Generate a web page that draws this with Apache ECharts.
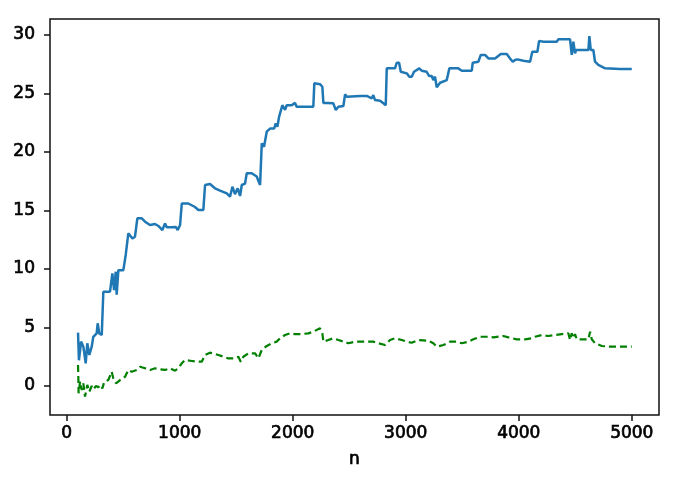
<!DOCTYPE html>
<html>
<head>
<meta charset="utf-8">
<script src="https://cdn.jsdelivr.net/npm/echarts@6/dist/echarts.min.js"></script>
<style>html,body{margin:0;padding:0;background:#fff}#c{width:677px;height:484px}</style>
</head>
<body>
<div id="c"></div>
<script>
var xTicks = [0, 1000, 2000, 3000, 4000, 5000];
var yTicks = [0, 5, 10, 15, 20, 25, 30];
var xName = 'n';

var blueN = [100,108,127,147,168,182,200,221,235,265,274,288,310,324,383,404,419,434,442,457,501,522,545,560,581,604,625,664,693,737,782,811,846,870,885,929,965,982,1003,1018,1076,1135,1165,1209,1224,1268,1312,1357,1416,1445,1466,1489,1513,1534,1549,1578,1593,1637,1681,1711,1726,1746,1770,1799,1835,1850,1864,1879,1908,1932,1947,1991,2020,2035,2182,2191,2241,2262,2271,2301,2359,2381,2404,2448,2463,2478,2596,2611,2655,2699,2713,2728,2773,2802,2823,2832,2905,2920,2941,2956,3009,3032,3053,3073,3120,3141,3185,3206,3230,3244,3259,3274,3304,3363,3386,3465,3496,3584,3593,3643,3664,3702,3731,3790,3841,3894,3923,3947,3967,3988,4041,4100,4120,4165,4180,4218,4336,4351,4454,4469,4483,4498,4507,4616,4625,4637,4660,4675,4704,4764,4896,5000];
var blueV = [4.56,2.2,3.8,3.36,1.94,3.65,2.65,3.36,4.2,4.5,5.36,4.5,4.36,8.06,8.06,9.63,8.2,9.77,7.8,9.9,9.9,11.2,13.05,13.2,12.6,12.76,14.33,14.33,14.04,13.76,13.85,13.68,13.33,13.9,13.56,13.56,13.6,13.33,13.76,15.6,15.6,15.3,15.04,15.04,17.18,17.26,16.9,16.7,16.47,16.18,17.03,16.4,16.9,16.24,17.18,17.3,18.18,18.18,17.9,17.18,20.74,20.45,21.74,22.0,22.0,22.45,22.16,23.0,24.0,23.6,24.0,24.0,24.2,23.87,23.87,25.87,25.8,25.58,24.2,24.2,24.16,23.59,23.87,23.93,24.93,24.73,24.79,24.93,24.79,24.59,24.87,24.44,24.38,24.16,24.0,27.15,27.15,27.63,27.63,26.86,26.72,26.44,26.44,26.86,27.15,26.95,26.86,26.5,26.5,26.15,26.44,25.53,25.92,26.15,27.15,27.15,26.95,26.95,27.63,27.72,28.3,28.3,28.0,28.0,28.38,28.38,28.0,27.72,27.86,27.92,27.8,27.72,28.57,28.57,29.5,29.43,29.43,29.63,29.63,28.3,29.43,28.43,28.72,28.72,29.91,28.72,28.72,27.72,27.44,27.15,27.1,27.1];

var greenN = [100,103,105,118,133,147,162,182,200,221,235,259,280,295,315,333,368,398,412,436,472,516,545,575,619,649,693,737,782,826,870,914,958,988,1018,1047,1091,1150,1195,1224,1268,1342,1430,1475,1519,1540,1563,1607,1667,1696,1726,1770,1814,1858,1888,1932,1976,2020,2080,2138,2182,2241,2262,2271,2315,2359,2404,2448,2492,2551,2611,2669,2713,2758,2817,2861,2905,2965,3009,3053,3112,3156,3200,3244,3274,3333,3392,3451,3496,3554,3598,3658,3717,3775,3864,3908,3982,4056,4115,4144,4204,4262,4321,4381,4439,4454,4469,4483,4498,4513,4572,4616,4631,4646,4675,4735,4808,4896,5000];
var greenV = [1.8,0.66,-0.62,0.37,-0.34,0.23,-0.91,0.09,-0.49,0.0,-0.28,0.0,-0.11,0.09,-0.2,0.37,0.51,1.22,0.66,0.23,0.51,0.79,1.37,1.22,1.37,1.65,1.51,1.37,1.51,1.43,1.37,1.51,1.31,1.51,1.94,2.22,2.16,2.08,2.08,2.65,2.85,2.65,2.36,2.36,2.5,2.08,2.5,2.79,2.79,2.36,3.08,3.42,3.65,3.79,4.08,4.36,4.5,4.44,4.44,4.5,4.64,4.93,4.5,3.79,3.93,4.08,3.93,3.79,3.65,3.79,3.79,3.79,3.79,3.65,3.5,3.93,4.08,3.93,3.79,3.7,3.93,3.9,3.87,3.65,3.36,3.5,3.79,3.79,3.65,3.79,3.99,4.21,4.21,4.16,4.27,4.16,3.99,3.99,4.08,4.21,4.36,4.27,4.36,4.44,4.5,3.93,4.5,4.08,4.44,3.99,3.99,3.99,4.64,3.99,3.65,3.42,3.36,3.36,3.36];

function zip(a, b) { return a.map(function (v, i) { return [v, b[i]]; }); }

var chart = echarts.init(document.getElementById('c'), null, {renderer: 'canvas'});
var font = 'DejaVu Sans';
var txt = {fontFamily: font, fontSize: 17, color: '#000', textBorderColor: '#000', textBorderWidth: 0.7};
function fmt(v) { return String(v); }
chart.setOption({
  animation: false,
  backgroundColor: '#fff',
  grid: {left: 50, right: 18, top: 19, bottom: 69, show: true, borderColor: '#111', borderWidth: 1.5, backgroundColor: 'transparent'},
  xAxis: {
    type: 'value', min: -148, max: 5241,
    name: xName, nameLocation: 'middle', nameGap: 36,
    nameTextStyle: txt,
    axisLine: {show: false, onZero: false},
    splitLine: {show: false},
    axisTick: {show: true, length: 6, lineStyle: {color: '#111', width: 1.5}, customValues: xTicks},
    axisLabel: Object.assign({margin: 10, customValues: xTicks, formatter: fmt}, txt)
  },
  yAxis: {
    type: 'value', min: -2.48, max: 31.37,
    axisLine: {show: false, onZero: false},
    splitLine: {show: false},
    axisTick: {show: true, length: 6, lineStyle: {color: '#111', width: 1.5}, customValues: yTicks},
    axisLabel: Object.assign({margin: 15, customValues: yTicks, formatter: fmt}, txt)
  },
  series: [
    {type: 'line', data: zip(blueN, blueV), showSymbol: false, lineStyle: {color: '#1f77b4', width: 2.5}, z: 3},
    {type: 'line', data: zip(greenN, greenV), showSymbol: false, lineStyle: {color: '#008000', width: 2.2, type: [7, 4]}, z: 2}
  ]
});
</script>
</body>
</html>
